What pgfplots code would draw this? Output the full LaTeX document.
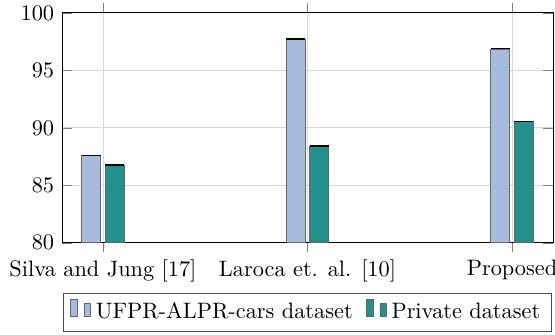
\documentclass[border=0pt]{standalone}
\usepackage{pgfplots}
\pgfplotsset{compat=1.18}
\definecolor{cA}{HTML}{A7BCDD}
\definecolor{cB}{HTML}{22918C}
\begin{document}
\begin{tikzpicture}
\begin{axis}[
  name=ax,
  scale only axis,
  width=220pt, height=103pt,
  ybar=2pt, bar width=8.5pt,
  ymin=80, ymax=100,
  ytick={80,85,90,95,100},
  xmin=-0.2, xmax=2.2,
  xtick={0,1,2},
  xticklabels={Silva and Jung [17], Laroca et. al. [10], Proposed},
  grid=major,
  major grid style={gray!30},
  legend style={at={(0.5,-0.22)}, anchor=north, legend columns=-1, draw=black!70,
    /tikz/every even column/.append style={column sep=4pt}},
]
\addplot[fill=cA, draw=black!60, error bars/.cd, y dir=plus, y explicit,
  error mark options={black, rotate=90, mark size=4.25pt, line width=0.6pt}]
  coordinates {(0,87.57) +- (0,0.03) (1,97.7) +- (0,0.03) (2,96.85) +- (0,0.03)};
\addplot[fill=cB, draw=black!60, error bars/.cd, y dir=plus, y explicit,
  error mark options={black, rotate=90, mark size=4.25pt, line width=0.6pt}]
  coordinates {(0,86.75) +- (0,0.03) (1,88.4) +- (0,0.03) (2,90.55) +- (0,0.03)};
\legend{UFPR-ALPR-cars dataset, Private dataset}
\end{axis}
\pgfresetboundingbox
\path ([xshift=-27.8pt, yshift=-41pt]ax.south west) rectangle ([xshift=0.9pt, yshift=5.8pt]ax.north east);
\end{tikzpicture}
\end{document}
